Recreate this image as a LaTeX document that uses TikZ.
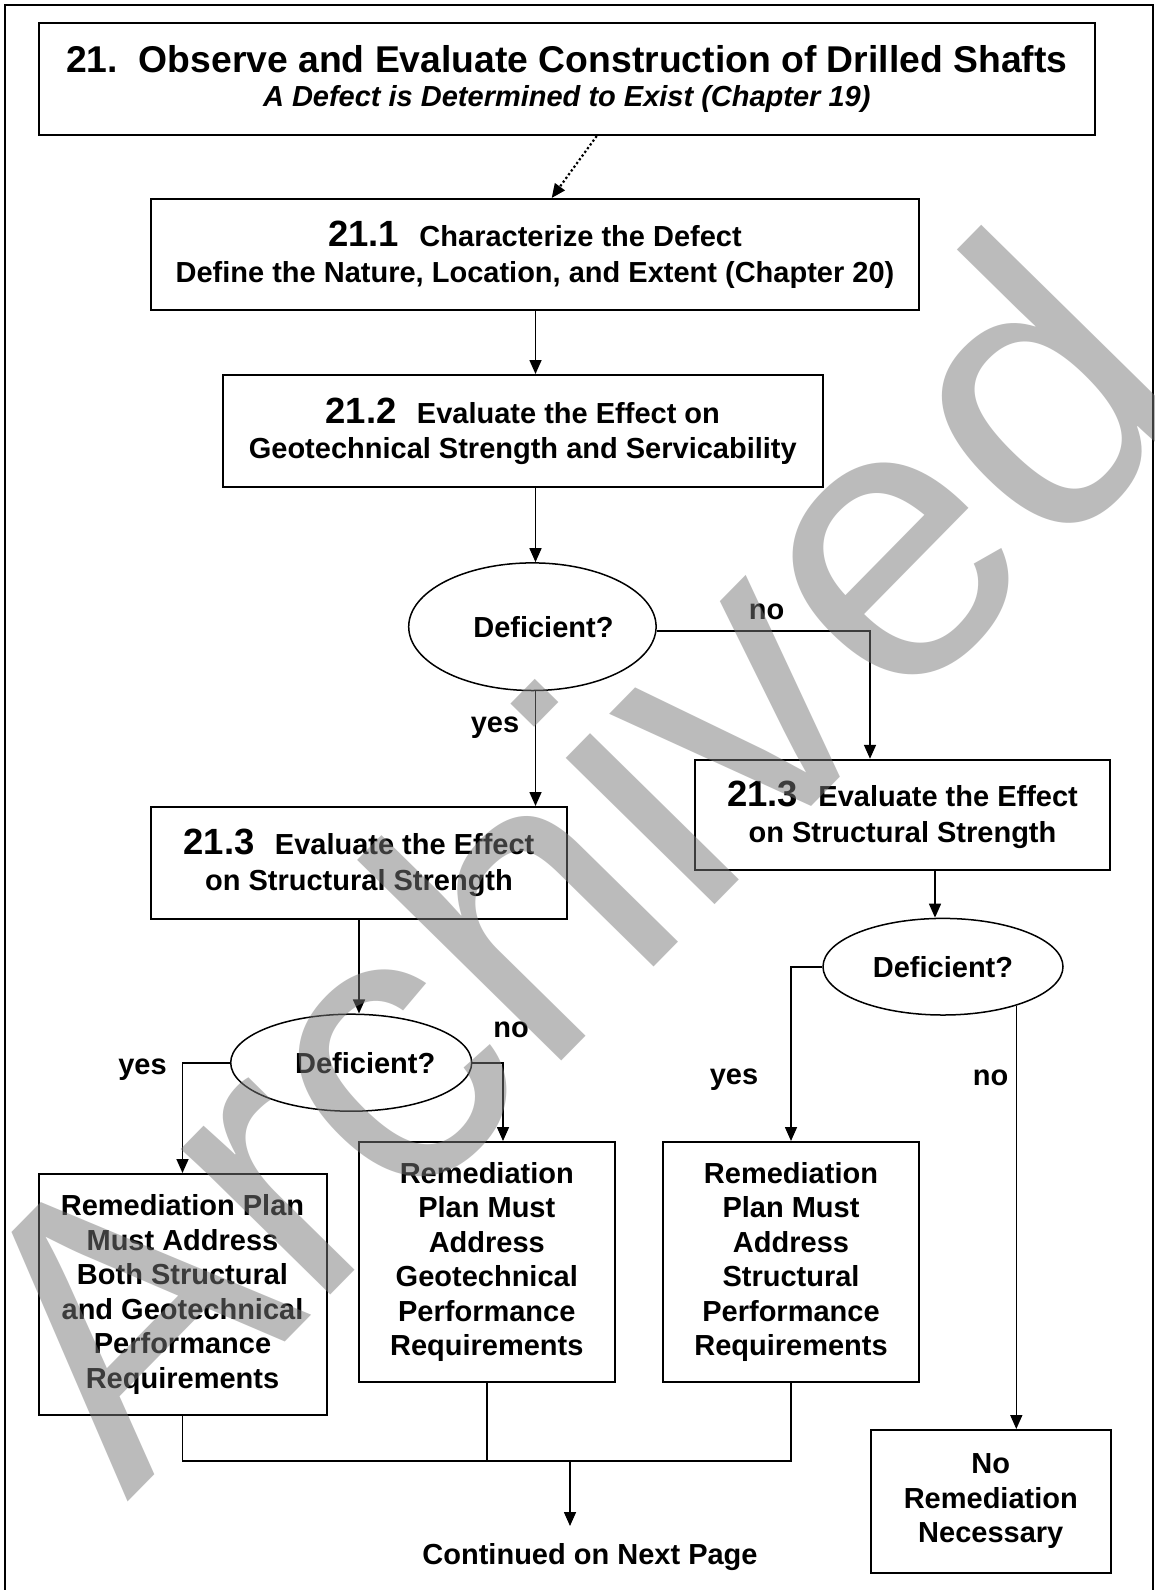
\documentclass[tikz,border=0pt]{standalone}
\usepackage{fontspec}
\setmainfont{Liberation Sans}
\usetikzlibrary{arrows.meta,shapes.geometric}
\definecolor{wmgray}{RGB}{120,120,120}
\newcommand{\numbig}[1]{{\fontsize{36.5}{40}\selectfont #1\ \ }}
\tikzset{
  box/.style={draw, line width=2pt, rectangle, align=center, inner sep=0pt, font=\bfseries\fontsize{29}{34.5}\selectfont},
  dec/.style={draw, ellipse, line width=1.5pt, inner sep=0pt, font=\bfseries\fontsize{29}{34.5}\selectfont},
  lab/.style={inner sep=0pt, font=\bfseries\fontsize{29}{34.5}\selectfont},
  conn/.style={line width=1.6pt},
  arr/.style={conn, -{Triangle[length=14pt,width=12pt]}},
}
\begin{document}
\begin{tikzpicture}[x=1pt,y=-1pt]
\useasboundingbox (0,0) rectangle (1154,1590);
\fill[white] (0,0) rectangle (1154,1590);
\draw[line width=2pt] (5,1600) -- (5,5) -- (1152.5,5) -- (1152.5,1600);

% boxes
\node[box, minimum width=1056.5pt, minimum height=112.5pt, font=\bfseries\fontsize{29}{34.6}\selectfont] (title) at (566.8,78.8)
  {{\fontsize{37.3}{40}\selectfont 21.\ \ Observe and Evaluate Construction of Drilled Shafts}\\ \itshape A Defect is Determined to Exist (Chapter 19)};
\node[box, minimum width=768pt, minimum height=111pt, font=\bfseries\fontsize{29}{36}\selectfont] (s1) at (535,254.5)
  {\numbig{21.1}Characterize the Defect\\Define the Nature, Location, and Extent (Chapter 20)};
\node[box, minimum width=599.5pt, minimum height=112pt, font=\bfseries\fontsize{29}{35}\selectfont] (s2) at (522.8,431)
  {\numbig{21.2}Evaluate the Effect on\\Geotechnical Strength and Servicability};
\node[dec, minimum width=247.4pt, minimum height=127.6pt] (d1) at (532.4,626.7) {\hspace*{22pt}Deficient?};
\node[box, minimum width=416pt, minimum height=112pt, font=\bfseries\fontsize{29}{36}\selectfont] (s3l) at (359,863)
  {\numbig{21.3}Evaluate the Effect\\on Structural Strength};
\node[box, minimum width=415.7pt, minimum height=110.4pt, font=\bfseries\fontsize{29}{36.5}\selectfont] (s3r) at (902.5,815)
  {\numbig{21.3}Evaluate the Effect\\on Structural Strength};
\node[dec, minimum width=241pt, minimum height=97pt] (d2) at (351.2,1062.7) {\hspace*{28pt}Deficient?};
\node[dec, minimum width=240pt, minimum height=96.6pt] (d3) at (943,966.7) {Deficient?};
\node[box, minimum width=288pt, minimum height=241pt] (rl) at (182.5,1294.5)
  {Remediation Plan\\Must Address\\Both Structural\\and Geotechnical\\Performance\\Requirements};
\node[box, minimum width=255.5pt, minimum height=240pt] (rm) at (486.8,1262)
  {Remediation\\Plan Must\\Address\\Geotechnical\\Performance\\Requirements};
\node[box, minimum width=256pt, minimum height=240pt] (rr) at (791,1262)
  {Remediation\\Plan Must\\Address\\Structural\\Performance\\Requirements};
\node[box, minimum width=239.5pt, minimum height=143pt] (nr) at (990.8,1501.5)
  {No\\Remediation\\Necessary\rule[-6pt]{0pt}{6pt}};
\node[lab] (cont) at (590,1557.5) {Continued on Next Page};

% labels
\node[lab] (no1) at (766.7,611.5) {no};
\node[lab] (yes1) at (495,728) {yes};
\node[lab] (yes2) at (142.5,1070) {yes};
\node[lab] (no2) at (511,1030) {no};
\node[lab] (yes3) at (734,1080) {yes};
\node[lab] (no3) at (990.5,1078) {no};

% connectors
\coordinate (dt) at (596.7,0);
\coordinate (dh) at (551.7,0);
\draw[line width=2.2pt, dash pattern=on 2.2pt off 2.4pt, -{Triangle[length=14pt,width=12pt]}] (dt |- title.south) -- (dh |- s1.north);
\coordinate (ax) at (535.5,0);
\draw[arr] (ax |- s1.south) -- (ax |- s2.north);
\draw[arr] (ax |- s2.south) -- (ax |- d1.north);
\draw[arr] (ax |- d1.south) -- (ax |- s3l.north);
\coordinate (x1) at (870,0);
\draw[arr] (d1.-2) -- (x1 |- d1.-2) -- (x1 |- s3r.north);
\draw[arr] (s3l.south) -- (s3l.south |- d2.north);
\draw[arr] (d2.west) -- (rl.north |- d2.west) -- (rl.north);
\coordinate (x2) at (503,0);
\draw[arr] (d2.east) -- (x2 |- d2.east) -- (x2 |- rm.north);
\coordinate (x3) at (935,0);
\draw[arr] (x3 |- s3r.south) -- (x3 |- d3.north);
\draw[arr] (d3.west) -- (rr.north |- d3.west) -- (rr.north);
\draw[arr] (d3.-28.2) -- (d3.-28.2 |- nr.north);
\coordinate (my) at (0,1461);
\draw[conn] (rl.south) -- (rl.south |- my) -- (rr.south |- my) -- (rr.south);
\draw[conn] (rm.south) -- (rm.south |- my);
\coordinate (m) at (570,1461);
\coordinate (mend) at (570,1526);
\draw[arr] (m) -- (mend);

% watermark
\node[anchor=base west, rotate=45.5, inner sep=0pt, text=wmgray, opacity=0.5, font=\fontsize{395}{395}\selectfont] (wmk) at (127,1503) {Archived};
\end{tikzpicture}
\end{document}
